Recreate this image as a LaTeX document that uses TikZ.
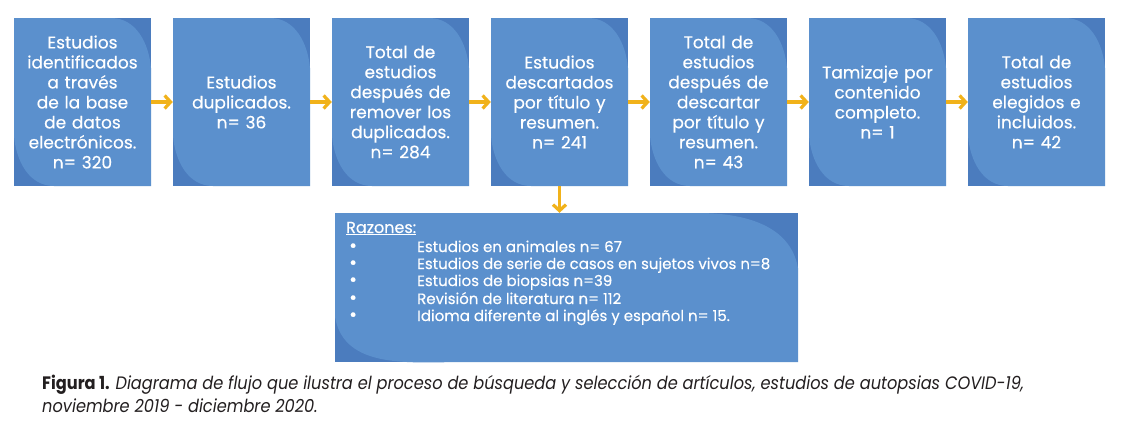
\documentclass[tikz,border=0pt]{standalone}
\usepackage{fontspec}
\setmainfont{Poppins}[FakeBold=0.4]
\newfontfamily\capfont[FakeStretch=0.90]{Poppins}
\usetikzlibrary{arrows.meta}
\definecolor{boxlight}{HTML}{5B90CD}
\definecolor{boxdark}{HTML}{4B7CBE}
\definecolor{arrowc}{HTML}{F1B21A}
\definecolor{capc}{HTML}{231F20}
\tikzset{
  stepbox/.style={draw=none, fill=boxdark, minimum width=137pt, minimum height=168pt,
    inner sep=0pt, text=white, align=center, text width=134pt,
    font=\fontsize{17}{20}\selectfont,
    path picture={\fill[boxlight]
      (path picture bounding box.north west)
      -- ([xshift=-40pt]path picture bounding box.north east)
      to[out=0,in=95] ([yshift=-50pt]path picture bounding box.north east)
      -- (path picture bounding box.south east)
      -- ([xshift=40pt]path picture bounding box.south west)
      to[out=180,in=-85] ([yshift=50pt]path picture bounding box.south west)
      -- cycle;}},
  reasonbox/.style={draw=none, fill=boxdark, minimum width=463pt, minimum height=149pt,
    inner sep=0pt,
    path picture={\fill[boxlight]
      (path picture bounding box.north west)
      -- ([xshift=-100pt]path picture bounding box.north east)
      to[out=0,in=100] ([yshift=-55pt]path picture bounding box.north east)
      -- (path picture bounding box.south east)
      -- ([xshift=130pt]path picture bounding box.south west)
      to[out=180,in=-80] ([yshift=45pt]path picture bounding box.south west)
      -- cycle;}},
  rtext/.style={text=white, inner sep=0pt, anchor=base west, font=\fontsize{15}{17}\selectfont},
  bullet/.style={text=white, inner sep=0pt, anchor=base west, text height=8pt, text depth=0pt,
    font=\fontsize{19}{17}\selectfont},
  flowarrow/.style={draw=arrowc, line width=3.6pt, -{Straight Barb[length=6pt,width=13pt,line width=3.2pt]}},
  captext/.style={text=capc, inner sep=0pt, anchor=base west, font=\capfont\fontsize{18}{23}\selectfont}
}
\begin{document}
\begin{tikzpicture}[x=1pt,y=-1pt]
\useasboundingbox (0,0) rectangle (1128,440);
\fill[white] (0,0) rectangle (1128,440);
\node[stepbox] (b1) at (82.5,102) {Estudios\\identificados\\a través\\de la base\\de datos\\electrónicos.\\n= 320};
\node[stepbox] (b2) at (241.5,102) {Estudios\\duplicados.\\n= 36};
\node[stepbox] (b3) at (400.5,102) {Total de\\estudios\\después de\\remover los\\duplicados.\\n= 284};
\node[stepbox] (b4) at (559.5,102) {Estudios\\descartados\\por título y\\resumen.\\n= 241};
\node[stepbox] (b5) at (718.5,102) {Total de\\estudios\\después de\\descartar\\por título y\\resumen.\\n= 43};
\node[stepbox] (b6) at (877.5,102) {Tamizaje por\\contenido\\completo.\\n= 1};
\node[stepbox] (b7) at (1036.5,102) {Total de\\estudios\\elegidos e\\incluidos.\\n= 42};
\node[reasonbox] (r) at (566.5,287.5) {};
\draw[flowarrow] (b1.east) -- (b2.west);
\draw[flowarrow] (b2.east) -- (b3.west);
\draw[flowarrow] (b3.east) -- (b4.west);
\draw[flowarrow] (b4.east) -- (b5.west);
\draw[flowarrow] (b5.east) -- (b6.west);
\draw[flowarrow] (b6.east) -- (b7.west);
\draw[flowarrow] (b4.south) -- (b4.south |- r.north);
\node[rtext] (rz) at (346,233) {\fontsize{16}{17}\selectfont\underline{Razones:}};
\node[bullet] (p1) at (349,252) {•};
\node[bullet] (p2) at (349,269) {•};
\node[bullet] (p3) at (349,286) {•};
\node[bullet] (p4) at (349,304) {•};
\node[bullet] (p5) at (349,321) {•};
\node[rtext] (t1) at (417,252) {Estudios en animales n= 67};
\node[rtext] (t2) at (417,269) {Estudios de serie de casos en sujetos vivos n=8};
\node[rtext] (t3) at (417,286) {Estudios de biopsias n=39};
\node[rtext] (t4) at (417,304) {Revisión de literatura n= 112};
\node[rtext] (t5) at (417,321) {Idioma diferente al inglés y español n= 15.};
\node[captext] (c1) at (42,389) {\textbf{Figura 1.} \textit{Diagrama de flujo que ilustra el proceso de búsqueda y selección de artículos, estudios de autopsias COVID-19,}};
\node[captext] (c2) at (42,412) {\textit{noviembre 2019 - diciembre 2020.}};
\end{tikzpicture}
\end{document}
